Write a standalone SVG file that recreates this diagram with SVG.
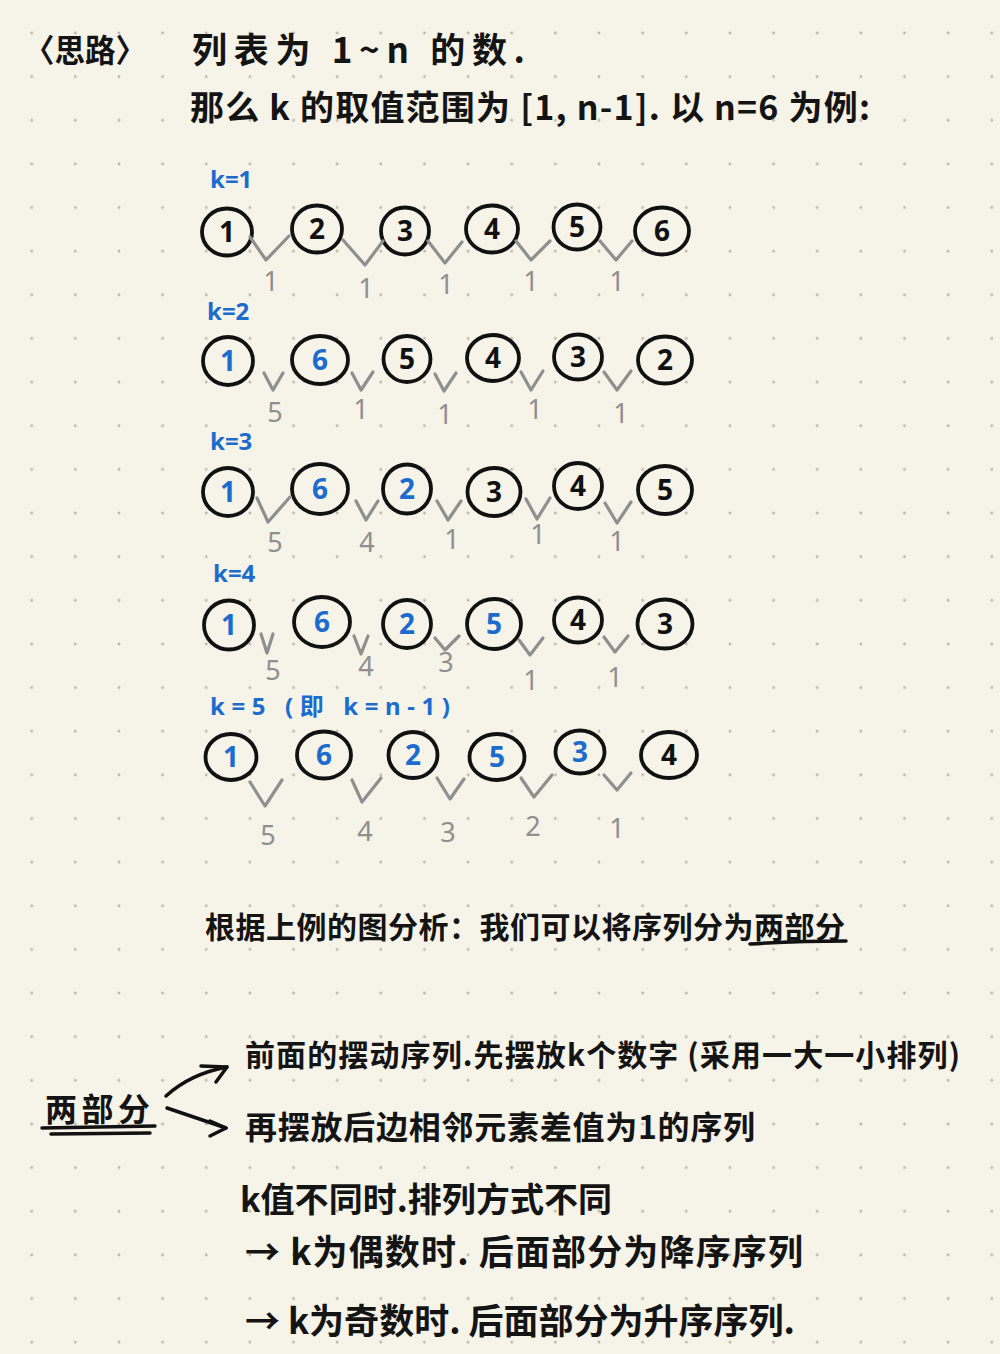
<svg xmlns="http://www.w3.org/2000/svg" width="1000" height="1354" viewBox="0 0 1000 1354">
<defs>
<pattern id="dots" x="9.88" y="11.18" width="43.64" height="43.64" patternUnits="userSpaceOnUse"><circle cx="21.82" cy="21.82" r="1.4" fill="#bab6ab"/></pattern>
<style>
.t{font-family:"Noto Sans CJK SC","Noto Sans",sans-serif;fill:#141414;font-weight:700}
.lbl{font-family:"Noto Sans","Noto Sans CJK SC",sans-serif;fill:#1b6ccc;font-weight:700;font-size:24px}
.c{fill:none;stroke:#111;stroke-width:3.8}
.n{font-family:"Noto Sans",sans-serif;font-weight:700;font-size:28px;text-anchor:middle}
.nb{fill:#111}
.nu{fill:#1b6ccc}
.v{fill:none;stroke:#8f8f8f;stroke-width:3.2;stroke-linecap:round;stroke-linejoin:round}
.d{font-family:"Noto Sans",sans-serif;font-size:27px;fill:#8f8f8f;text-anchor:middle}
.a{fill:none;stroke:#111;stroke-width:3.5;stroke-linecap:round;stroke-linejoin:round}
</style>
</defs>
<rect width="1000" height="1354" fill="#f6f3e8"/>
<rect width="1000" height="1354" fill="url(#dots)"/>

<g id="header">
<text class="t" x="24" y="62" font-size="32" textLength="122" lengthAdjust="spacingAndGlyphs">〈思路〉</text>
<text class="t" x="192" y="63" font-size="35" textLength="333">列表为 1~n 的数.</text>
<text class="t" x="190" y="120" font-size="34" textLength="680">那么 k 的取值范围为 [1, n-1]. 以 n=6 为例:</text>
</g>

<g id="labels">
<text class="lbl" x="210" y="188">k=1</text>
<text class="lbl" x="207" y="320">k=2</text>
<text class="lbl" x="210" y="450">k=3</text>
<text class="lbl" x="213" y="582">k=4</text>
<text class="lbl" x="210" y="715" font-size="26" textLength="240">k=5 (即 k=n-1)</text>
</g>

<g id="row1">
<g id="k1-1"><ellipse class="c" cx="227" cy="232" rx="25" ry="23.5"/><text class="n nb" x="227" y="242">1</text></g>
<g id="k1-2"><ellipse class="c" cx="317" cy="229" rx="25" ry="23.5"/><text class="n nb" x="317" y="239">2</text></g>
<g id="k1-3"><ellipse class="c" cx="405" cy="231" rx="24" ry="23.5"/><text class="n nb" x="405" y="241">3</text></g>
<g id="k1-4"><ellipse class="c" cx="492" cy="229" rx="26" ry="23.5"/><text class="n nb" x="492" y="239">4</text></g>
<g id="k1-5"><ellipse class="c" cx="577" cy="227" rx="23.5" ry="22.5"/><text class="n nb" x="577" y="237">5</text></g>
<g id="k1-6"><ellipse class="c" cx="662" cy="231" rx="27" ry="23.5"/><text class="n nb" x="662" y="241">6</text></g>
</g>

<g id="row2">
<g id="k2-1"><ellipse class="c" cx="228" cy="361" rx="25" ry="24"/><text class="n nu" x="228" y="371">1</text></g>
<g id="k2-2"><ellipse class="c" cx="320" cy="360" rx="28" ry="24"/><text class="n nu" x="320" y="370">6</text></g>
<g id="k2-3"><ellipse class="c" cx="407" cy="359" rx="23.5" ry="23"/><text class="n nb" x="407" y="369">5</text></g>
<g id="k2-4"><ellipse class="c" cx="493" cy="358" rx="26" ry="23"/><text class="n nb" x="493" y="368">4</text></g>
<g id="k2-5"><ellipse class="c" cx="578" cy="357" rx="24" ry="22.5"/><text class="n nb" x="578" y="367">3</text></g>
<g id="k2-6"><ellipse class="c" cx="665" cy="360" rx="27" ry="23.5"/><text class="n nb" x="665" y="370">2</text></g>
</g>

<g id="row3">
<g id="k3-1"><ellipse class="c" cx="228" cy="492" rx="25" ry="24"/><text class="n nu" x="228" y="502">1</text></g>
<g id="k3-2"><ellipse class="c" cx="320" cy="489" rx="28" ry="25"/><text class="n nu" x="320" y="499">6</text></g>
<g id="k3-3"><ellipse class="c" cx="407" cy="489" rx="24" ry="24.5"/><text class="n nu" x="407" y="499">2</text></g>
<g id="k3-4"><ellipse class="c" cx="494" cy="492" rx="26.5" ry="24"/><text class="n nb" x="494" y="502">3</text></g>
<g id="k3-5"><ellipse class="c" cx="578" cy="486" rx="24" ry="23"/><text class="n nb" x="578" y="496">4</text></g>
<g id="k3-6"><ellipse class="c" cx="665" cy="490" rx="27" ry="24"/><text class="n nb" x="665" y="500">5</text></g>
</g>

<g id="row4">
<g id="k4-1"><ellipse class="c" cx="229" cy="625" rx="25" ry="24.5"/><text class="n nu" x="229" y="635">1</text></g>
<g id="k4-2"><ellipse class="c" cx="322" cy="622" rx="28" ry="25"/><text class="n nu" x="322" y="632">6</text></g>
<g id="k4-3"><ellipse class="c" cx="407" cy="624" rx="24" ry="24"/><text class="n nu" x="407" y="634">2</text></g>
<g id="k4-4"><ellipse class="c" cx="494" cy="624" rx="27" ry="25"/><text class="n nu" x="494" y="634">5</text></g>
<g id="k4-5"><ellipse class="c" cx="578" cy="620" rx="24" ry="22.5"/><text class="n nb" x="578" y="630">4</text></g>
<g id="k4-6"><ellipse class="c" cx="665" cy="624" rx="27.5" ry="24.5"/><text class="n nb" x="665" y="634">3</text></g>
</g>

<g id="row5">
<g id="k5-1"><ellipse class="c" cx="231" cy="757" rx="25.5" ry="23"/><text class="n nu" x="231" y="767">1</text></g>
<g id="k5-2"><ellipse class="c" cx="324" cy="755" rx="27" ry="23.5"/><text class="n nu" x="324" y="765">6</text></g>
<g id="k5-3"><ellipse class="c" cx="413" cy="755" rx="24.5" ry="23"/><text class="n nu" x="413" y="765">2</text></g>
<g id="k5-4"><ellipse class="c" cx="497" cy="757" rx="27.5" ry="23"/><text class="n nu" x="497" y="767">5</text></g>
<g id="k5-5"><ellipse class="c" cx="580" cy="752" rx="24.5" ry="21.5"/><text class="n nu" x="580" y="762">3</text></g>
<g id="k5-6"><ellipse class="c" cx="669" cy="755" rx="28" ry="23"/><text class="n nb" x="669" y="765">4</text></g>
</g>

<g id="connectors">
<path class="v" d="M250,237 L266,260 L289,236"/>
<path class="v" d="M343,240 L365,265 L383,241"/>
<path class="v" d="M428,241 L445,263 L462,242"/>
<path class="v" d="M516,241 L531,260 L550,241"/>
<path class="v" d="M600,241 L616,260 L632,241"/>

<path class="v" d="M264,373 L273,390 L283,373"/>
<path class="v" d="M352,373 L361,390 L373,372"/>
<path class="v" d="M435,374 L444,391 L456,373"/>
<path class="v" d="M521,372 L531,390 L543,371"/>
<path class="v" d="M604,372 L617,390 L631,371"/>

<path class="v" d="M257,498 L268,522 L290,497"/>
<path class="v" d="M356,501 L366,520 L378,501"/>
<path class="v" d="M437,501 L448,520 L461,501"/>
<path class="v" d="M526,499 L537,519 L550,498"/>
<path class="v" d="M605,503 L617,523 L631,502"/>

<path class="v" d="M261,634 L267,653 L273,634"/>
<path class="v" d="M354,636 L361,654 L368,636"/>
<path class="v" d="M435,638 L445,650 L459,636"/>
<path class="v" d="M519,640 L530,655 L543,638"/>
<path class="v" d="M604,637 L615,652 L628,636"/>

<path class="v" d="M250,782 L265,806 L282,780"/>
<path class="v" d="M352,780 L362,802 L381,778"/>
<path class="v" d="M437,778 L450,799 L464,779"/>
<path class="v" d="M521,778 L534,797 L552,775"/>
<path class="v" d="M604,775 L617,790 L631,773"/>

<path class="a" d="M166,1096 Q190,1074 227,1067"/>
<path class="a" d="M201,1066 L227,1067 L216,1082"/>
<path class="a" d="M167,1108 L226,1128"/>
<path class="a" d="M210,1121 L226,1128 L210,1136"/>
</g>

<g id="diffs">
<text class="d" x="271" y="291">1</text>
<text class="d" x="366" y="298">1</text>
<text class="d" x="446" y="294">1</text>
<text class="d" x="531" y="291">1</text>
<text class="d" x="617" y="291">1</text>

<text class="d" x="275" y="422">5</text>
<text class="d" x="361" y="419">1</text>
<text class="d" x="445" y="424">1</text>
<text class="d" x="535" y="419">1</text>
<text class="d" x="621" y="423">1</text>

<text class="d" x="275" y="552">5</text>
<text class="d" x="367" y="552">4</text>
<text class="d" x="452" y="549">1</text>
<text class="d" x="538" y="544">1</text>
<text class="d" x="617" y="551" font-size="18">1</text>

<text class="d" x="273" y="680">5</text>
<text class="d" x="366" y="676">4</text>
<text class="d" x="446" y="672">3</text>
<text class="d" x="531" y="690">1</text>
<text class="d" x="615" y="687">1</text>

<text class="d" x="268" y="845">5</text>
<text class="d" x="365" y="841">4</text>
<text class="d" x="448" y="842">3</text>
<text class="d" x="533" y="836" font-size="24">2</text>
<text class="d" x="617" y="838">1</text>
</g>

<g id="analysis">
<text class="t" x="205" y="938" font-size="30" textLength="640">根据上例的图分析：我们可以将序列分为两部分</text>
<path class="a" d="M750,944 Q800,941 846,941"/>
</g>

<g id="parts">
<text class="t" x="45" y="1121" font-size="32" textLength="105">两部分</text>
<path class="a" d="M42,1128 L155,1126"/>
<path class="a" d="M51,1134 L150,1133" stroke-width="2.5"/>
</g>

<g id="part1"><text class="t" x="245" y="1066" font-size="30" textLength="715">前面的摆动序列.先摆放k个数字 (采用一大一小排列)</text></g>
<g id="part2"><text class="t" x="245" y="1139" font-size="32" textLength="510">再摆放后边相邻元素差值为1的序列</text></g>

<g id="notes">
<text class="t" x="240" y="1212" font-size="34" textLength="372">k值不同时.排列方式不同</text>
<text class="t" x="245" y="1265" font-size="35" textLength="558">→ k为偶数时. 后面部分为降序序列</text>
<text class="t" x="245" y="1334" font-size="35" textLength="550">→ k为奇数时. 后面部分为升序序列.</text>
</g>
</svg>
